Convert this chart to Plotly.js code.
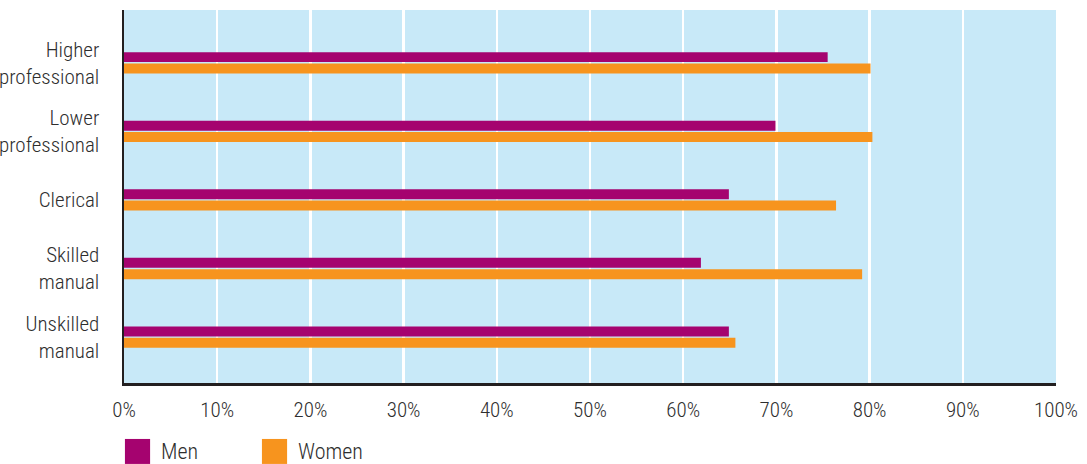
<!DOCTYPE html>
<html>
<head>
<meta charset="utf-8">
<script src="https://cdn.plot.ly/plotly-3.0.1.min.js"></script>
<style>
html,body{margin:0;padding:0;background:#fff;}
#chart{width:1087px;height:464px;}
</style>
</head>
<body>
<div id="chart"></div>
<script>
const categories = ["Higher<br>professional", "Lower<br>professional", "Clerical", "Skilled<br>manual", "Unskilled<br>manual"];
const seriesNames = ["Men", "Women"];
const menValues = [75.5, 69.9, 64.9, 61.9, 64.9];
const womenValues = [80.1, 80.3, 76.4, 79.2, 65.6];
const xTickValues = [0, 10, 20, 30, 40, 50, 60, 70, 80, 90, 100];
const xTickLabels = ["0%", "10%", "20%", "30%", "40%", "50%", "60%", "70%", "80%", "90%", "100%"];
const colors = ["#a5036f", "#f7941e"];

const FONT = "'Roboto Condensed', 'Liberation Sans Narrow', sans-serif";
const TEXT = "#2e2e2e";
const FS = 21;
const FW = 300;

const traces = [menValues, womenValues].map((vals, i) => ({
  type: "bar",
  orientation: "h",
  name: seriesNames[i],
  x: vals,
  y: categories,
  marker: {color: colors[i], line: {width: 0}},
  hoverinfo: "x+name"
}));

// custom legend (squares + labels)
const legendX = [0.001, 0.148];
const shapes = [];
const annotations = [];
seriesNames.forEach((n, i) => {
  shapes.push({type: "rect", xref: "paper", yref: "paper",
    x0: legendX[i], x1: legendX[i] + 0.027, y0: -0.217, y1: -0.150,
    fillcolor: colors[i], line: {width: 0}});
  annotations.push({xref: "paper", yref: "paper", x: legendX[i] + 0.037, y: -0.184,
    xanchor: "left", yanchor: "middle", showarrow: false, text: n,
    font: {family: FONT, size: 22, weight: FW, color: TEXT}});
});

const layout = {
  width: 1087, height: 464,
  margin: {l: 124, r: 31, t: 10, b: 81},
  paper_bgcolor: "#ffffff",
  plot_bgcolor: "#c8e9f8",
  barmode: "group",
  bargap: 0.67,
  bargroupgap: 0.12,
  showlegend: false,
  font: {family: FONT, size: FS, weight: FW, color: TEXT},
  xaxis: {
    range: [0, 100],
    tickvals: xTickValues,
    ticktext: xTickLabels,
    showgrid: true, gridcolor: "#ffffff", gridwidth: 2.5,
    zeroline: false,
    showline: true, linecolor: "#231f20", linewidth: 2.5,
    ticks: "", ticklabelstandoff: 6,
    tickfont: {family: FONT, size: FS, weight: FW, color: TEXT},
    fixedrange: true
  },
  yaxis: {
    type: "category",
    range: [4.67, -0.77],
    showgrid: false, zeroline: false,
    showline: true, linecolor: "#231f20", linewidth: 2.5,
    ticks: "", ticklabelstandoff: 18,
    tickfont: {family: FONT, size: FS, weight: FW, color: TEXT},
    fixedrange: true
  },
  shapes: shapes,
  annotations: annotations
};

Plotly.newPlot("chart", traces, layout, {displayModeBar: false, staticPlot: true});
</script>
</body>
</html>
